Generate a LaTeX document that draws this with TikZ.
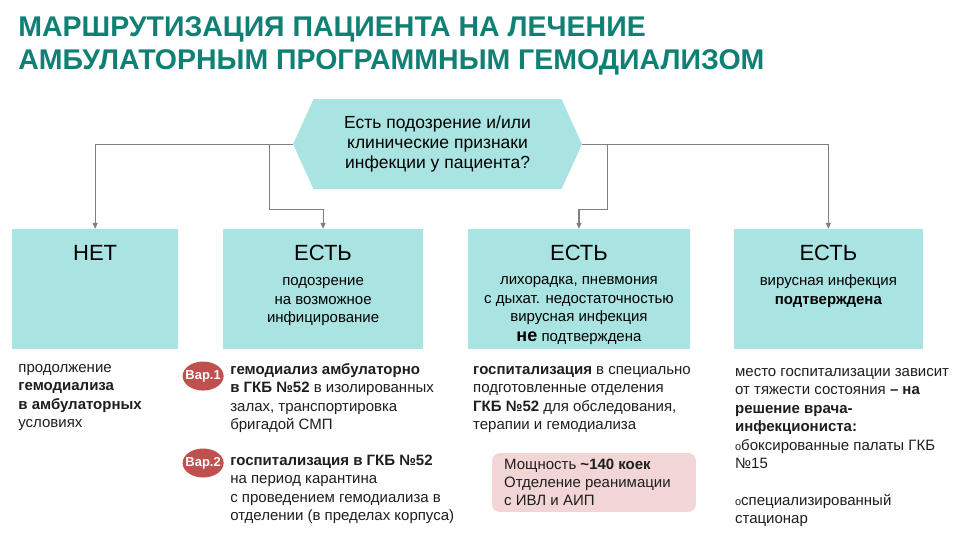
\documentclass[tikz,border=0pt]{standalone}
\usepackage{fontspec}
\setmainfont{Liberation Sans}
\usetikzlibrary{shapes.symbols,shapes.geometric,arrows.meta}
\definecolor{titleteal}{RGB}{17,128,116}
\definecolor{boxteal}{RGB}{170,228,226}
\definecolor{notepink}{RGB}{242,214,214}
\definecolor{varred}{RGB}{192,80,77}
\definecolor{wiregray}{RGB}{128,128,128}
\definecolor{textgray}{RGB}{30,30,30}
\begin{document}
\begin{tikzpicture}[x=1pt,y=-1pt,
    wire/.style={draw=wiregray,line width=1.1pt,-{Triangle[length=6pt,width=5pt]}},
    casebox/.style={fill=boxteal,minimum width=#1,minimum height=120pt,inner sep=0pt},
    casehead/.style={anchor=base,inner sep=0pt,font=\fontsize{22}{26}\selectfont},
    casetext/.style={anchor=base,inner sep=0pt,align=center,font=\fontsize{15}{18.5}\selectfont},
    note/.style={anchor=base west,inner sep=0pt,align=left,text=textgray,font=\fontsize{15}{18.5}\selectfont},
    varbadge/.style={ellipse,fill=varred,inner sep=0pt,minimum width=41pt,minimum height=29pt},
    vartext/.style={inner sep=0pt,text=white,font=\bfseries\fontsize{13}{15}\selectfont}]
      \filldraw[color=white] (0,0) rectangle (965,538);
      \useasboundingbox (0,0) rectangle (965,538);
      % Title (base = last line)
      \node[anchor=base west,inner sep=0pt,align=left,text=titleteal,font=\bfseries\fontsize{28.5}{33}\selectfont] (title) at (18,69)
        {МАРШРУТИЗАЦИЯ ПАЦИЕНТА НА ЛЕЧЕНИЕ\\АМБУЛАТОРНЫМ ПРОГРАММНЫМ ГЕМОДИАЛИЗОМ};
      % Question
      \node[signal,signal to=west and east,signal pointer angle=131,fill=boxteal,minimum width=289pt,minimum height=90pt,
        inner sep=0pt,align=center,font=\fontsize{17.5}{20}\selectfont] (ask) at (437.5,144)
        {Есть подозрение и/или\\клинические признаки\\инфекции у пациента?};
      % Case boxes
      \node[casebox=166pt] (none) at (95,289) {};
      \node[casebox=200pt] (susp) at (323,289) {};
      \node[casebox=222pt] (fever) at (579,289) {};
      \node[casebox=189pt] (conf) at (828.5,289) {};
      \node[casehead] at ([yshift=-32pt]none.north) {НЕТ};
      \node[casehead] at ([yshift=-32pt]susp.north) {ЕСТЬ};
      \node[casehead] at ([yshift=-32pt]fever.north) {ЕСТЬ};
      \node[casehead] at ([yshift=-32pt]conf.north) {ЕСТЬ};
      \node[casetext] at ([yshift=-94pt]susp.north) {подозрение\\на возможное\\инфицирование};
      \node[casetext] at ([yshift=-113pt]fever.north) {лихорадка, пневмония\\с дыхат. недостаточностью\\вирусная инфекция\\[1.5pt]{\bfseries\fontsize{18}{20}\selectfont не} подтверждена};
      \node[casetext] at ([yshift=-75.5pt]conf.north) {вирусная инфекция\\\textbf{подтверждена}};
      % Wires
      \draw[wire] (ask.west) -| (none.north);
      \coordinate (forkl) at ([xshift=-23pt]ask.west);
      \draw[wire] (forkl) -- ++(0,65) -| (susp.north);
      \draw[wire] (ask.east) -| (conf.north);
      \coordinate (forkr) at ([xshift=25pt]ask.east);
      \draw[wire] (forkr) -- ++(0,65) -| (fever.north);
      % Notes under the boxes (base = last line)
      \node[note] (keep) at (18,427.5) {продолжение\\\textbf{гемодиализа}\\\textbf{в амбулаторных}\\условиях};
      \node[varbadge] (var1) at (203,376) {};
      \node[vartext] at (var1) {Вар.1};
      \node[note] (amb) at (230,429.5) {\textbf{гемодиализ амбулаторно}\\\textbf{в ГКБ №52} в изолированных\\залах, транспортировка\\бригадой СМП};
      \node[varbadge] (var2) at (203,463) {};
      \node[vartext] at (var2) {Вар.2};
      \node[note] (hosp) at (230,520.5) {\textbf{госпитализация в ГКБ №52}\\на период карантина\\с проведением гемодиализа в\\отделении (в пределах корпуса)};
      \node[note] (ward) at (473,429.5) {\textbf{госпитализация} в специально\\подготовленные отделения\\\textbf{ГКБ №52} для обследования,\\терапии и гемодиализа};
      \node[fill=notepink,rounded corners=8pt,minimum width=204pt,minimum height=59pt,inner sep=0pt] (beds) at (594,482.5) {};
      \node[note] at (504,506) {Мощность \textbf{\textasciitilde140 коек}\\Отделение реанимации\\с ИВЛ и АИП};
      \node[note] (place) at (735,524) {место госпитализации зависит\\от тяжести состояния \textbf{– на}\\\textbf{решение врача-}\\\textbf{инфекциониста:}\\{\fontsize{11}{13}\selectfont o}боксированные палаты ГКБ\\№15\\[18.5pt]{\fontsize{11}{13}\selectfont o}специализированный\\стационар};
\end{tikzpicture}
\end{document}
